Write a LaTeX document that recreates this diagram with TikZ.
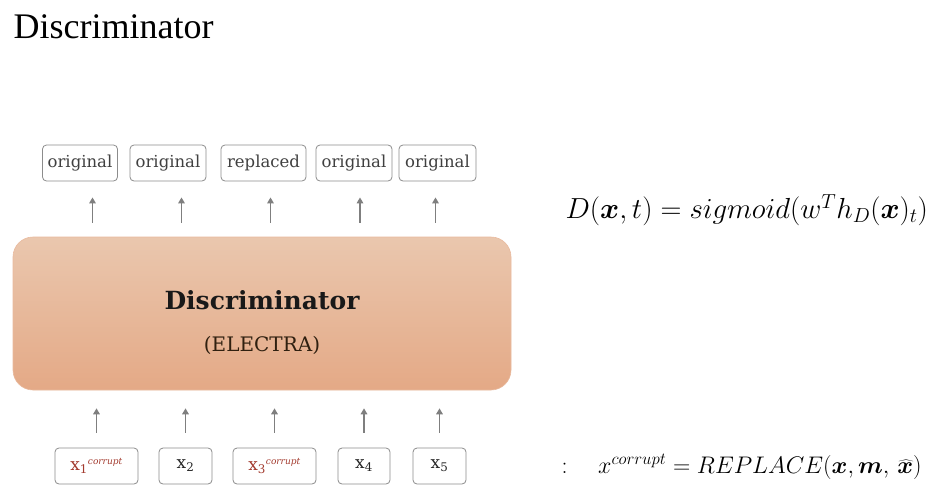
\RequirePackage{fix-cm}
\documentclass[tikz,border=0pt]{standalone}
\usepackage[no-math]{fontspec}
\usepackage{bm}
\setmainfont{DejaVu Serif}
\newfontfamily\titlefont{Liberation Serif}
\usetikzlibrary{arrows.meta}
\definecolor{boxgray}{HTML}{8C8C8C}
\definecolor{arrgray}{HTML}{7F7F7F}
\definecolor{corred}{HTML}{A33A2E}
\definecolor{disctop}{HTML}{EAC7AE}
\definecolor{discbot}{HTML}{E4A986}
\newcommand{\xcor}[1]{\textcolor{corred}{x\textsubscript{#1}\textsuperscript{\itshape\fontsize{9}{9}\selectfont corrupt}}}

\begin{document}
\begin{tikzpicture}[x=1pt, y=-1pt,
	lbl/.style={draw=boxgray, rounded corners=4pt, line width=0.8pt, minimum height=36pt, inner sep=0pt, text=black!75, font=\fontsize{16.5}{16.5}\selectfont},
	arr/.style={-{Triangle[length=6pt,width=6.5pt]}, draw=arrgray, line width=1.5pt}]
	\useasboundingbox [fill=white] (0,0) rectangle (948,498);
	\node [anchor=base west, font=\titlefont\fontsize{36}{36}\selectfont] (title) at (10,38) {Discriminator};
	% outputs
	\node [lbl, minimum width=75pt] (out1) at (80,163) {original};
	\node [lbl, minimum width=76pt] (out2) at (168,163) {original};
	\node [lbl, minimum width=85pt] (out3) at (263.5,163) {replaced};
	\node [lbl, minimum width=76pt] (out4) at (354,163) {original};
	\node [lbl, minimum width=77pt] (out5) at (437.5,163) {original};
	% model
	\node [draw=discbot!80!white, line width=0.6pt, rounded corners=20pt, minimum width=498pt, minimum height=153pt, top color=disctop, bottom color=discbot] (disc) at (262,313.5) {};
	\node [font=\bfseries\fontsize{25}{25}\selectfont, text=black!90] (dname) at (262,300) {Discriminator};
	\node [font=\fontsize{20}{20}\selectfont, text=black!75!brown] (dsub) at (262,345) {(ELECTRA)};
	% inputs
	\node [lbl, minimum width=83pt, font=\fontsize{17}{17}\selectfont] (in1) at (96.5,466) {\xcor{1}};
	\node [lbl, minimum width=53pt, text=black!85, font=\fontsize{17}{17}\selectfont] (in2) at (185.5,466) {x\textsubscript{2}};
	\node [lbl, minimum width=83pt, font=\fontsize{17}{17}\selectfont] (in3) at (274.5,466) {\xcor{3}};
	\node [lbl, minimum width=52pt, text=black!85, font=\fontsize{17}{17}\selectfont] (in4) at (364,466) {x\textsubscript{4}};
	\node [lbl, minimum width=53pt, text=black!85, font=\fontsize{17}{17}\selectfont] (in5) at (439.5,466) {x\textsubscript{5}};
	\foreach \i in {1,...,5} {
		\draw [arr, shorten <=15pt, shorten >=18pt] (in\i.north) -- (in\i.north |- disc.south);
		\draw [arr, shorten <=14pt, shorten >=16pt] ([xshift=-4pt]disc.north -| in\i) -- ([xshift=-4pt]out\i.south -| in\i);
	}
	% equations
	\node [anchor=west, font=\fontsize{29}{33}\selectfont] (eqD) at (562,210) {$D(\bm{x},t)=sigmoid(w^T h_D(\bm{x})_t)$};
	\node [anchor=west, font=\fontsize{24}{28}\selectfont] (eqR) at (558,467) {$:\quad x^{corrupt}=REPLACE(\bm{x},\bm{m},\,\widehat{\bm{x}})$};
\end{tikzpicture}
\end{document}
